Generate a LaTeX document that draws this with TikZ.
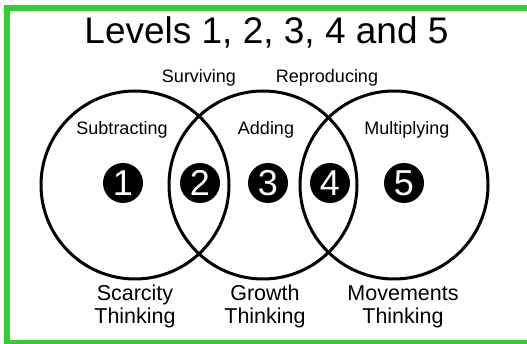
\documentclass[tikz,border=0pt]{standalone}
\usepackage{fontspec}
\setmainfont{Liberation Sans}
\definecolor{framegreen}{RGB}{51,204,51}

\begin{document}
\begin{tikzpicture}[x=1pt,y=-1pt,
    ring/.style={circle,draw,line width=3pt,minimum size=188pt,inner sep=0pt},
    badge/.style={circle,fill=black,text=white,minimum size=40pt,inner sep=0pt,
      font=\fontsize{36}{36}\selectfont},
    word/.style={font=\fontsize{18}{22}\selectfont},
    mind/.style={align=center,font=\fontsize{21.5}{23}\selectfont}]
      \useasboundingbox (0,0) rectangle (527,344);
      \draw[framegreen,line width=6pt] (7,8) rectangle (530,343);
      \draw
        (266.5,32) node[font=\fontsize{37}{37}\selectfont] (title){Levels 1, 2, 3, 4 and 5}
        (135,185) node[ring] (c1){}
        (263,185) node[ring] (c2){}
        (394,185) node[ring] (c3){};
      \begin{scope}[word]
        \node (surv) at (199,78) {Surviving};
        \node (repr) at (327,78) {Reproducing};
        \node (sub) at (122,130) {Subtracting};
        \node (add) at (266,130) {Adding};
        \node (mul) at (407,130) {Multiplying};
      \end{scope}
      \node[badge] (n1) at (123,183) {1};
      \node[badge] (n2) at (200,183) {2};
      \node[badge] (n3) at (268,183) {3};
      \node[badge] (n4) at (330,183) {4};
      \node[badge] (n5) at (404,183) {5};
      % bottom captions, struts keep the rows level
      \node[mind] (scar) at (135,307) {Scarcity\strut\\Thinking\strut};
      \node[mind] (grow) at (265,307) {Growth\strut\\Thinking\strut};
      \node[mind] (move) at (403,307) {Movements\strut\\Thinking\strut};
    \end{tikzpicture}
\end{document}
